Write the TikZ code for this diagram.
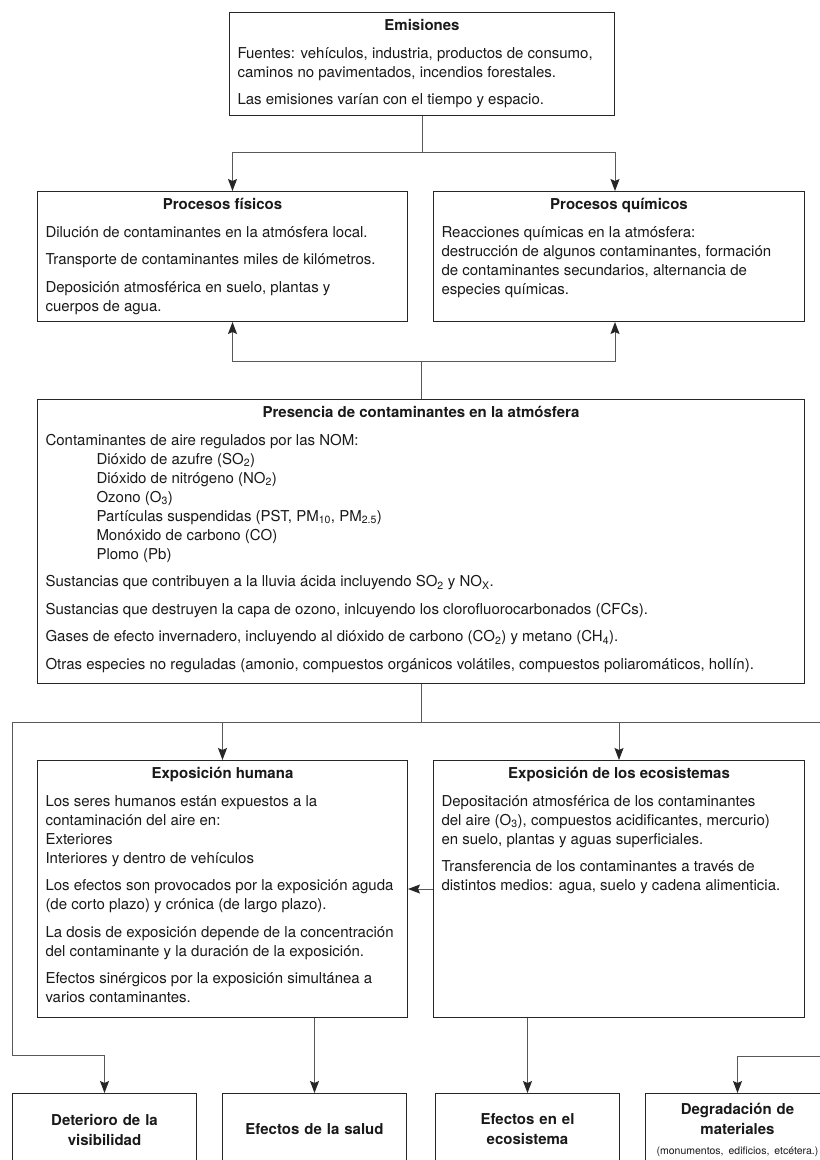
\documentclass[tikz,border=0pt]{standalone}
\usepackage{fontspec}
\setmainfont{TeX Gyre Heros}
\usetikzlibrary{arrows.meta,calc}
\newcommand{\cajatexto}[4]{\begin{minipage}[t][#2][t]{#1}\setlength{\parskip}{8.5bp}\raggedright
{\centering\bfseries\rule{0pt}{18bp}#3\par}#4\end{minipage}}
\tikzset{
  caja/.style={draw=black!85, line width=1bp, inner xsep=8bp, inner ysep=0pt, anchor=north west,
    font=\fontsize{15bp}{19bp}\selectfont, text=black!90},
  cajafinal/.style={caja, inner xsep=7bp, text width=170bp, minimum height=72bp, align=center,
    font=\fontsize{15bp}{20bp}\selectfont\bfseries},
  linea/.style={draw=black!65, line width=1bp},
  flecha/.style={linea, -{Stealth[length=12bp,width=9bp,inset=2bp,black!85]}},
}

\begin{document}
\begin{tikzpicture}[x=1bp,y=-1bp]
			%%%%% START %%%%%
			\useasboundingbox (0,0) rectangle (820,1160);
			\clip (0,0) rectangle (820,1160);
			\fill[white] (0,0) rectangle (820,1160);
			
			\node[caja] (emis) at (229,12) {\cajatexto{369bp}{103bp}{Emisiones}{%
				Fuentes: vehículos, industria, productos de consumo,\\ caminos no pavimentados, incendios forestales.\par
				Las emisiones varían con el tiempo y espacio.}};
			
			\node[caja] (fis) at (37,191) {\cajatexto{354bp}{130bp}{Procesos físicos}{%
				Dilución de contaminantes en la atmósfera local.\par
				Transporte de contaminantes miles de kilómetros.\par
				Deposición atmosférica en suelo, plantas y\\ cuerpos de agua.}};
			\node[caja] (quim) at (433,191) {\cajatexto{355bp}{130bp}{Procesos químicos}{%
				Reacciones químicas en la atmósfera:\\ destrucción de algunos contaminantes, formación\\
				de contaminantes secundarios, alternancia de\\ especies químicas.}};
			
			\node[caja] (pres) at (37,399) {\cajatexto{751bp}{284bp}{Presencia de contaminantes en la atmósfera}{%
				Contaminantes de aire regulados por las NOM:\\
				\hspace*{51bp}Dióxido de azufre (SO\textsubscript{2})\\
				\hspace*{51bp}Dióxido de nitrógeno (NO\textsubscript{2})\\
				\hspace*{51bp}Ozono (O\textsubscript{3})\\
				\hspace*{51bp}Partículas suspendidas (PST, PM\textsubscript{10}, PM\textsubscript{2.5})\\
				\hspace*{51bp}Monóxido de carbono (CO)\\
				\hspace*{51bp}Plomo (Pb)\par
				Sustancias que contribuyen a la lluvia ácida incluyendo SO\textsubscript{2} y NO\textsubscript{X}.\par
				Sustancias que destruyen la capa de ozono, inlcuyendo los clorofluorocarbonados (CFCs).\par
				Gases de efecto invernadero, incluyendo al dióxido de carbono (CO\textsubscript{2}) y metano (CH\textsubscript{4}).\par
				Otras especies no reguladas (amonio, compuestos orgánicos volátiles, compuestos poliaromáticos, hollín).}};
			
			\node[caja] (hum) at (37,760) {\cajatexto{354bp}{257bp}{Exposición humana}{%
				Los seres humanos están expuestos a la\\ contaminación del aire en:\\ Exteriores\\ Interiores y dentro de vehículos\par
				\mbox{Los efectos son provocados por la exposición aguda}\\ (de corto plazo) y crónica (de largo plazo).\par
				\mbox{La dosis de exposición depende de la concentración}\\ del contaminante y la duración de la exposición.\par
				Efectos sinérgicos por la exposición simultánea a\\ varios contaminantes.}};
			\node[caja] (eco) at (433,760) {\cajatexto{355bp}{257bp}{Exposición de los ecosistemas}{%
				Depositación atmosférica de los contaminantes\\ del aire (O\textsubscript{3}), compuestos acidificantes, mercurio)\\
				en suelo, plantas y aguas superficiales.\par
				Transferencia de los contaminantes a través de\\ distintos medios: agua, suelo y cadena alimenticia.}};
			
			\node[cajafinal] (b1) at (12,1093) {Deterioro de la\\ visibilidad};
			\node[cajafinal] (b2) at (222,1093) {Efectos de la salud};
			\node[cajafinal] (b3) at (435,1093) {Efectos en el\\ ecosistema};
			\node[cajafinal] (b4) at (645,1093) {Degradación de\\ materiales\\
				{\mdseries\fontsize{10.5bp}{13bp}\selectfont (monumentos, edificios, etcétera.)}};
			
			% emisiones -> procesos
			\draw[linea] (emis.south) -- (emis.south |- 0,152) coordinate (r1);
			\draw[flecha] (r1) -| ([xshift=10bp]fis.north);
			\draw[flecha] (r1) -| ([xshift=-4bp]quim.north);
			
			% presencia -> procesos
			\draw[linea] (pres.north) -- (pres.north |- 0,361) coordinate (r2);
			\draw[flecha] (r2) -| ([xshift=10bp]fis.south);
			\draw[flecha] (r2) -| ([xshift=-4bp]quim.south);
			
			% presencia -> exposicion y efectos
			\draw[linea] (pres.south) -- (pres.south |- 0,722) coordinate (r3);
			\draw[flecha] (r3) -| (hum.north);
			\draw[flecha] (r3) -| (eco.north);
			\draw[flecha] (r3) -| (b1.north west |- 0,1055) -| (b1.north);
			\draw[flecha] (r3) -| (b4.north east |- 0,1056) -| (b4.north);
			\draw[flecha] (hum.south -| b2.north) -- (b2.north);
			\draw[flecha] (eco.south -| b3.north) -- (b3.north);
			\draw[flecha] (eco.west) -- (hum.east);
			%%%%% END %%%%%
\end{tikzpicture}
\end{document}
